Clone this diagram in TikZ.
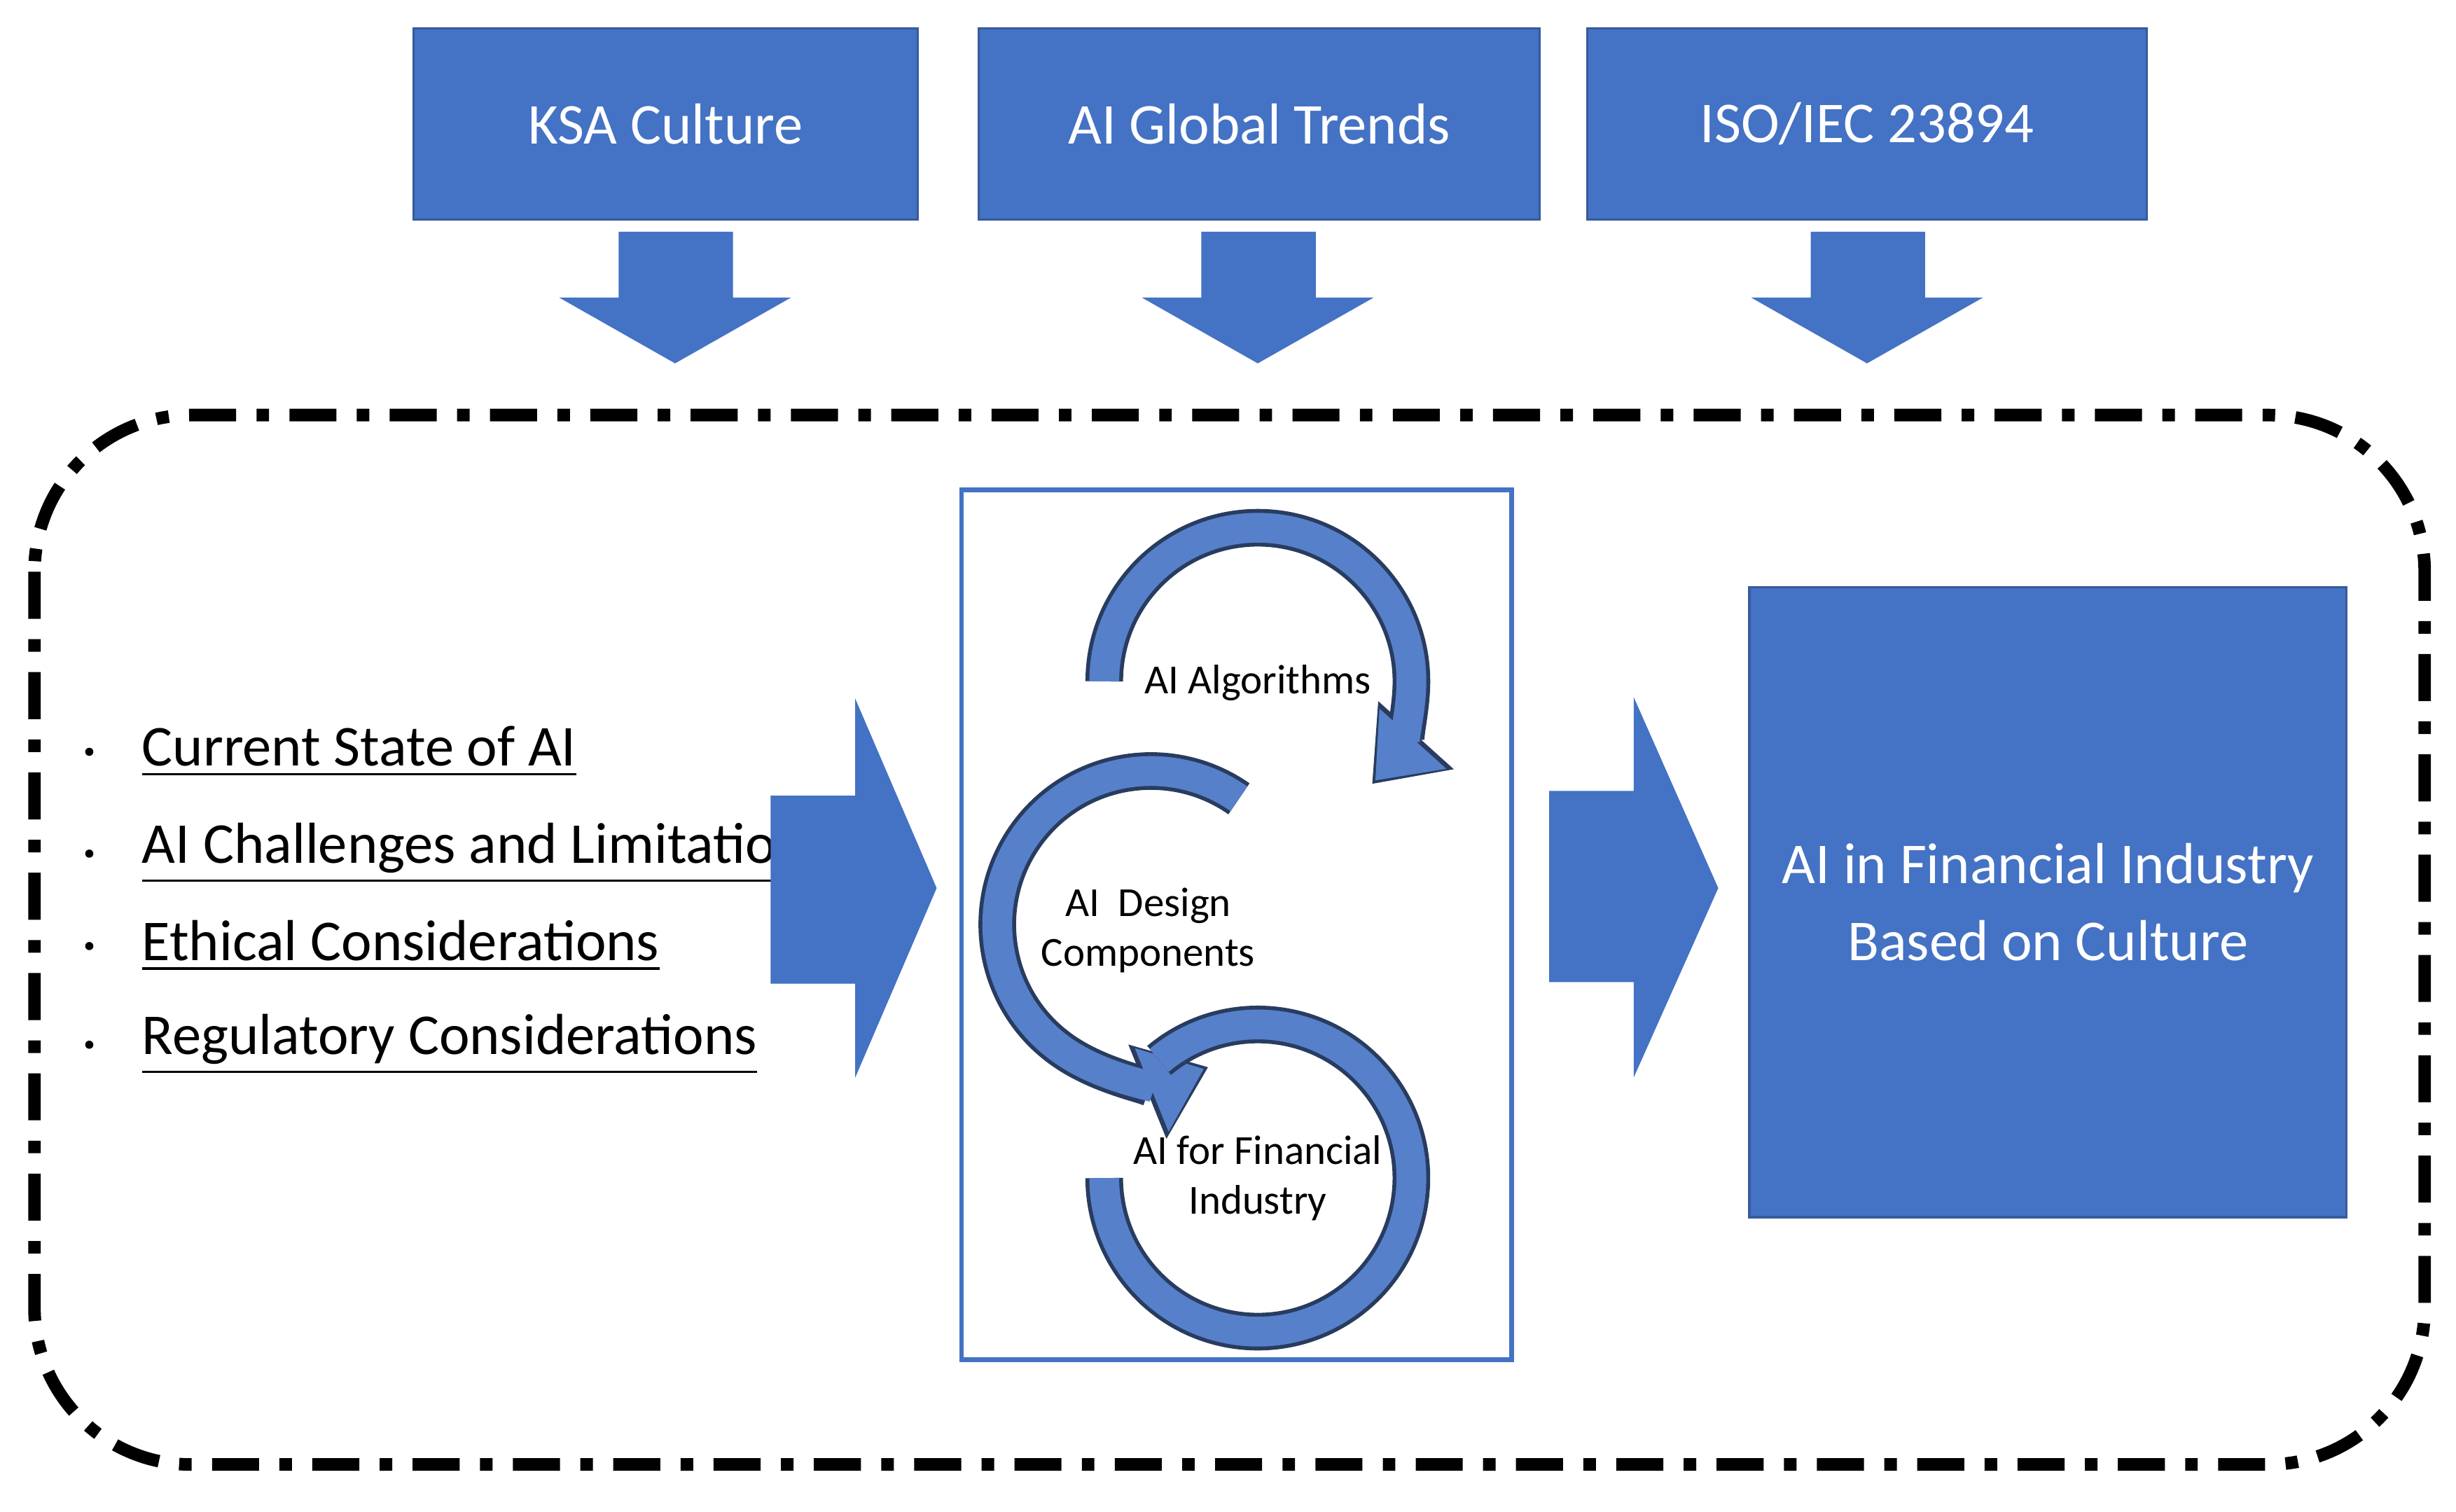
\documentclass[tikz,border=0pt]{standalone}
\usepackage{fontspec}
\setmainfont{Carlito}
\usepackage{tikz}
\usetikzlibrary{arrows.meta}
\definecolor{boxBlue}{RGB}{68,114,196}
\definecolor{ringEdge}{RGB}{40,60,95}
\tikzset{
  topbox/.style={draw=boxBlue!80!black,fill=boxBlue,text=white,font=\fontsize{10.5}{12}\selectfont,inner sep=0pt},
  blockarrow/.style={fill=boxBlue,draw=none},
  item/.style={anchor=west,font=\fontsize{10.5}{12}\selectfont,inner sep=0pt},
  ringlabel/.style={font=\fontsize{7.5}{9}\selectfont,align=center,inner sep=0pt},
  ringout/.style={line width=0.24cm,color=ringEdge},
  ringin/.style={line width=0.19cm,color=boxBlue!90!white}
}
\begin{document}
\begin{tikzpicture}[x=0.01cm,y=-0.01cm]
\useasboundingbox (0,0) rectangle (1568,965);
% top boxes
\node[topbox,minimum width=3.22cm,minimum height=1.22cm] (ksa) at (425,79) {KSA Culture};
\node[topbox,minimum width=3.58cm,minimum height=1.22cm] (trends) at (804,79) {AI Global Trends};
\node[topbox,minimum width=3.57cm,minimum height=1.22cm] (iso) at (1192,79) {ISO/IEC 23894};
% down arrows
\foreach \c in {431,803,1192}
  \fill[blockarrow] (\c-36,148) -- (\c+37,148) -- (\c+37,190) -- (\c+74,190) -- (\c,232) -- (\c-74,190) -- (\c-36,190) -- cycle;
% dash-dot frame
\draw[line width=0.08cm,rounded corners=1cm,dash pattern=on 0.3cm off 0.13cm on 0.08cm off 0.13cm] (22,265) rectangle (1548,935);
% list
\foreach \t/\y in {Current State of AI/480,AI Challenges and Limitations/545,Ethical Considerations/604,Regulatory Considerations/667}
  \node[item] at (90,\y) {\underline{\t}};
\foreach \y in {480,545,604,667}
  \fill (57,\y) circle (2.6);
% right arrows
\fill[blockarrow] (492,508) -- (546,508) -- (546,446) -- (598,567) -- (546,688) -- (546,628) -- (492,628) -- cycle;
\fill[blockarrow] (989,505) -- (1043,505) -- (1043,445) -- (1097,567) -- (1043,688) -- (1043,627) -- (989,627) -- cycle;
% centre panel
\node[draw=boxBlue,line width=0.03cm,minimum width=3.51cm,minimum height=5.55cm,inner sep=0pt] (panel) at (789.5,590.5) {};
% rings
\draw[ringout,-{Triangle[width=0.62cm,length=0.42cm]}] (705,435) arc[start angle=180,end angle=-42,radius=0.98cm];
\draw[ringin,-{Triangle[width=0.55cm,length=0.36cm]},shorten >=0.03cm] (705,435) arc[start angle=180,end angle=-42,radius=0.98cm];
\draw[ringout,-{Triangle[width=0.62cm,length=0.42cm]}] (791,510) arc[start angle=55,end angle=292,radius=0.98cm];
\draw[ringin,-{Triangle[width=0.55cm,length=0.36cm]},shorten >=0.03cm] (791,510) arc[start angle=55,end angle=292,radius=0.98cm];
\draw[ringout] (740,677) arc[start angle=130,end angle=-180,radius=0.98cm];
\draw[ringin] (740,677) arc[start angle=130,end angle=-180,radius=0.98cm];
\node[ringlabel] (algo) at (803,436) {AI Algorithms};
\node[ringlabel] (design) at (733,594) {AI\ \ Design\\Components};
\node[ringlabel] (fin) at (803,752) {AI for Financial\\Industry};
% result box
\node[topbox,minimum width=3.81cm,minimum height=4.02cm,align=center] (result) at (1307.5,576) {AI in Financial Industry\\[2pt]Based on Culture};
\end{tikzpicture}
\end{document}
